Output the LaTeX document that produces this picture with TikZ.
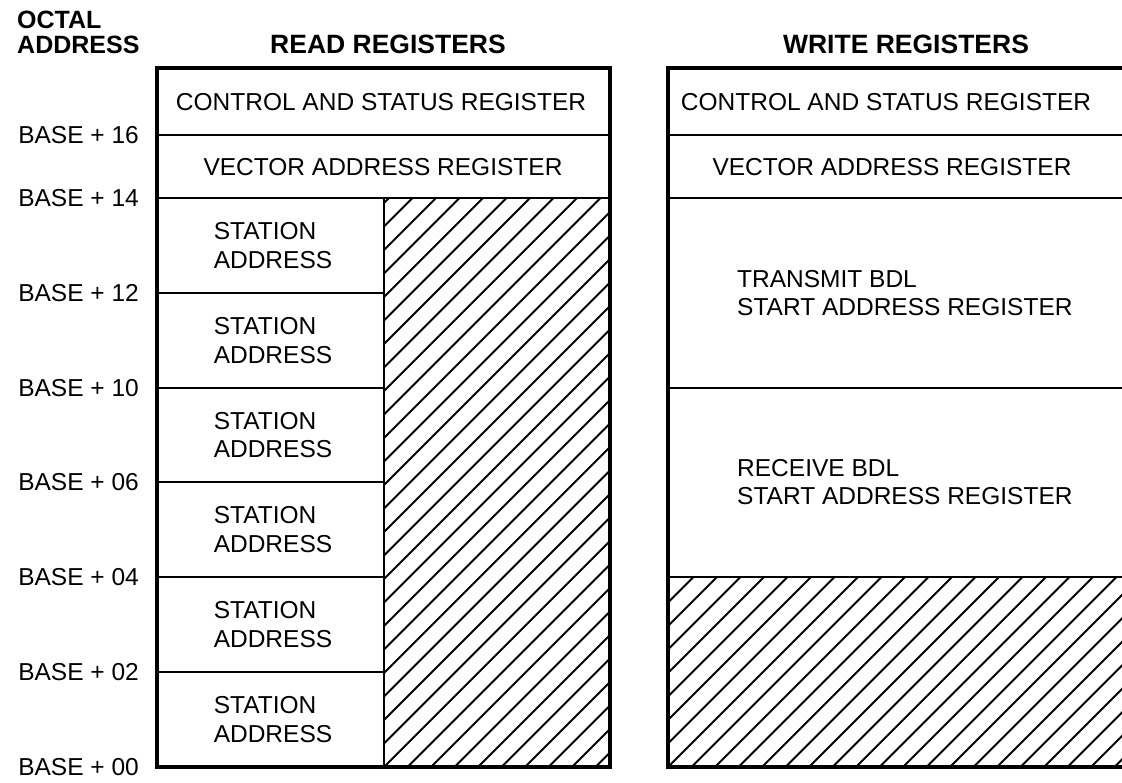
\documentclass[tikz,border=0pt]{standalone}
\usepackage{fontspec}
\setmainfont{Liberation Sans}
\begin{document}
\begin{tikzpicture}[x=1pt,y=-1pt,
  frame/.style={line width=3.2pt,line join=miter},
  sep/.style={line width=2.8pt},
  hatchline/.style={line width=2pt},
  lbl/.style={font=\fontsize{24.5}{28.5}\selectfont, inner sep=0pt},
  twoline/.style={lbl, align=left},
  hdr/.style={font=\fontsize{25}{26}\selectfont\bfseries, inner sep=0pt, anchor=base},
  colhdr/.style={hdr, font=\fontsize{26.5}{27}\selectfont\bfseries},
  addr/.style={lbl, anchor=east}]
\useasboundingbox (0,0) rectangle (1122,782);
% --- hatching
\begin{scope}
\clip (384,198) rectangle (610,767);
\foreach \i in {-26,...,11} \draw[hatchline] ({384+\i*23.5},767) -- ++(620,-620);
\end{scope}
\begin{scope}
\clip (668,577) rectangle (1130,767);
\foreach \i in {-10,...,21} \draw[hatchline] ({668+\i*23.5},767) -- ++(220,-220);
\end{scope}
% --- left box
\coordinate (LTL) at (157,68);
\coordinate (LBR) at (610,767);
\draw[frame] (LTL) rectangle (LBR);
\draw[sep] (157,135) -- (610,135);
\draw[sep] (157,198) -- (610,198);
\draw[sep] (384,198) -- (384,767);
\foreach \y in {293,388,482,577,672} \draw[sep] (157,\y) -- (384,\y);
% --- right box
\draw[frame] (1130,68) -- (668,68) -- (668,767) -- (1130,767);
\foreach \y in {135,198,388,577} \draw[sep] (668,\y) -- (1130,\y);
% --- headers
\node[hdr, anchor=base west] (oct) at (17,28) {OCTAL};
\node[hdr, anchor=base west] (adr) at (17,53) {ADDRESS};
\node[colhdr] (rr) at (388,53) {READ REGISTERS};
\node[colhdr] (wr) at (906,53) {WRITE REGISTERS};
% --- address labels
\node[addr] (b16) at (139,135) {BASE + 16};
\node[addr] (b14) at (139,198) {BASE + 14};
\node[addr] (b12) at (139,293) {BASE + 12};
\node[addr] (b10) at (139,388) {BASE + 10};
\node[addr] (b06) at (139,482) {BASE + 06};
\node[addr] (b04) at (139,577) {BASE + 04};
\node[addr] (b02) at (139,672) {BASE + 02};
\node[addr] (b00) at (139,767) {BASE + 00};
% --- read registers
\node[lbl] (rcsr) at (381,102) {CONTROL AND STATUS REGISTER};
\node[lbl] (rvar) at (383,167) {VECTOR ADDRESS REGISTER};
\foreach \n/\y in {1/245.5,2/340.5,3/435,4/529.5,5/624.5,6/719.5}
  \node[twoline] (st\n) at (273,\y) {STATION\\ADDRESS};
% --- write registers
\node[lbl] (wcsr) at (886,102) {CONTROL AND STATUS REGISTER};
\node[lbl] (wvar) at (892,167) {VECTOR ADDRESS REGISTER};
\node[twoline, anchor=west] (tx) at (737,293) {TRANSMIT BDL\\START ADDRESS REGISTER};
\node[twoline, anchor=west] (rx) at (737,482) {RECEIVE BDL\\START ADDRESS REGISTER};
\end{tikzpicture}
\end{document}
